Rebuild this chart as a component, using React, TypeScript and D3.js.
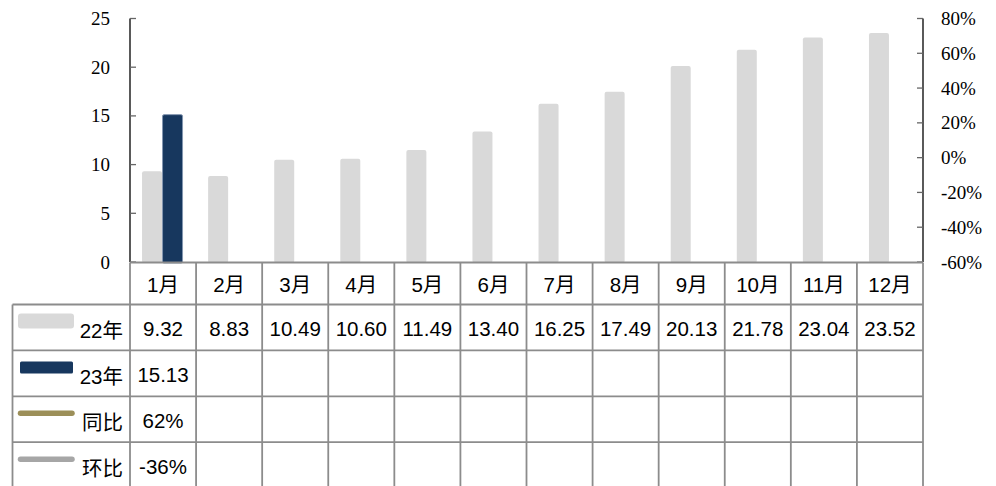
import React from "react";
import * as d3 from "d3";

const months = ["1月", "2月", "3月", "4月", "5月", "6月", "7月", "8月", "9月", "10月", "11月", "12月"];
const seriesNames = ["22年", "23年", "同比", "环比"];
const values22 = [9.32, 8.83, 10.49, 10.6, 11.49, 13.4, 16.25, 17.49, 20.13, 21.78, 23.04, 23.52];
const values23: (number | null)[] = [15.13, null, null, null, null, null, null, null, null, null, null, null];
const yoy: (number | null)[] = [0.62, null, null, null, null, null, null, null, null, null, null, null];
const mom: (number | null)[] = [-0.36, null, null, null, null, null, null, null, null, null, null, null];
const leftTicks = [0, 5, 10, 15, 20, 25];
const rightTicks = [-0.6, -0.4, -0.2, 0, 0.2, 0.4, 0.6, 0.8];

const W = 996;
const H = 486;
const axisL = 130;
const axisR = 923;
const plotTop = 18.5;
const plotBottom = 262;
const tableLeft = 12.5;
const headerBottom = 304.5;
const rowH = 45.9;

const C22 = "#D9D9D9";
const C23 = "#17375E";
const CYOY = "#9C8F59";
const CMOM = "#A6A6A6";
const GRID = "#8C8C8C";

const tableFont = "'Liberation Sans', Arial, 'Noto Sans CJK SC', sans-serif";
const axisFont = "'Liberation Serif', 'Times New Roman', serif";
const tableSize = 20.5;
const axisSize = 19;

export default function App() {
  const x = d3.scaleBand<string>().domain(months).range([axisL, axisR]);
  const yL = d3.scaleLinear().domain([0, 25]).range([plotBottom, plotTop]);
  const yR = d3.scaleLinear().domain([-0.6, 0.8]).range([plotBottom, plotTop]);
  const bw = 20;
  const cx = (m: string) => (x(m) as number) + x.bandwidth() / 2;

  const lineGen = d3
    .line<number | null>()
    .defined((d) => d !== null)
    .x((_, i) => cx(months[i]))
    .y((d) => yR(d as number));

  const rowTops = [0, 1, 2, 3].map((i) => headerBottom + i * rowH);
  const rowData: (number | null)[][] = [values22, values23, yoy, mom];
  const fmt = (r: number, v: number | null) =>
    v === null ? "" : r < 2 ? v.toFixed(2) : `${Math.round(v * 100)}%`;

  const colEdges = months.map((m) => x(m) as number).concat([axisR]);

  return (
    <svg width={W} height={H} style={{ position: "absolute", left: 0, top: 0, background: "#fff" }}>
      <rect x={0} y={0} width={W} height={H} fill="#fff" />
      {/* bars */}
      {months.map((m, i) => (
        <rect
          key={"b22" + m}
          x={cx(m) - bw - 1}
          y={yL(values22[i])}
          width={bw}
          height={plotBottom + 1 - yL(values22[i])}
          rx={2}
          fill={C22}
        />
      ))}
      {months.map((m, i) =>
        values23[i] === null ? null : (
          <rect
            key={"b23" + m}
            x={cx(m) - 0.5}
            y={yL(values23[i] as number)}
            width={bw}
            height={plotBottom + 1 - yL(values23[i] as number)}
            rx={1.5}
            fill={C23}
            stroke="#8496B0"
            strokeWidth={1}
          />
        )
      )}
      {/* lines (single point only) */}
      <path d={lineGen(yoy) || ""} fill="none" stroke={CYOY} strokeWidth={3} />
      <path d={lineGen(mom) || ""} fill="none" stroke={CMOM} strokeWidth={3} />

      {/* left axis */}
      <line x1={axisL} x2={axisL} y1={plotTop} y2={plotBottom} stroke="#000" strokeWidth={1.3} />
      {leftTicks.map((t) => (
        <g key={"lt" + t}>
          <line x1={axisL} x2={axisL + 6} y1={yL(t)} y2={yL(t)} stroke="#666" strokeWidth={1.3} />
          <text
            x={110}
            y={yL(t)}
            textAnchor="end"
            dominantBaseline="central"
            fontFamily={axisFont}
            fontSize={axisSize}
            fill="#000"
          >
            {t}
          </text>
        </g>
      ))}
      {/* right axis */}
      <line x1={axisR} x2={axisR} y1={plotTop} y2={plotBottom} stroke="#000" strokeWidth={1.3} />
      {rightTicks.map((t) => (
        <g key={"rt" + t}>
          <line x1={axisR - 6} x2={axisR} y1={yR(t)} y2={yR(t)} stroke="#666" strokeWidth={1.3} />
          <text
            x={941}
            y={yR(t)}
            textAnchor="start"
            dominantBaseline="central"
            fontFamily={axisFont}
            fontSize={axisSize}
            fill="#000"
          >
            {`${Math.round(t * 100)}%`}
          </text>
        </g>
      ))}

      {/* table grid */}
      <line x1={axisL} x2={axisR} y1={plotBottom + 0.5} y2={plotBottom + 0.5} stroke={GRID} strokeWidth={1.8} />
      {rowTops.map((yy) => (
        <line key={"h" + yy} x1={tableLeft} x2={axisR} y1={yy} y2={yy} stroke={GRID} strokeWidth={1.8} />
      ))}
      <line x1={tableLeft} x2={tableLeft} y1={headerBottom} y2={H + 2} stroke={GRID} strokeWidth={1.8} />
      {colEdges.map((xx, i) => (
        <line key={"v" + i} x1={xx} x2={xx} y1={plotBottom + 0.5} y2={H + 2} stroke={GRID} strokeWidth={1.8} />
      ))}

      {/* header */}
      {months.map((m) => (
        <text
          key={"hd" + m}
          x={cx(m)}
          y={(plotBottom + headerBottom) / 2 + 1}
          textAnchor="middle"
          dominantBaseline="central"
          fontFamily={tableFont}
          fontSize={tableSize}
          fill="#000"
        >
          {m}
        </text>
      ))}

      {/* legend cells */}
      {seriesNames.map((s, r) => {
        const top = rowTops[r];
        const mid = top + rowH / 2;
        let swatch: React.ReactNode;
        if (r === 0)
          swatch = <rect x={18} y={top + 9} width={56} height={15} rx={3} fill={C22} />;
        else if (r === 1)
          swatch = <rect x={20} y={top + 11} width={53} height={12} rx={1.5} fill={C23} />;
        else
          swatch = (
            <line
              x1={20.5}
              x2={72}
              y1={top + 17}
              y2={top + 17}
              stroke={r === 2 ? CYOY : CMOM}
              strokeWidth={5.5}
              strokeLinecap="round"
            />
          );
        return (
          <g key={"lg" + s}>
            {swatch}
            <text
              x={123}
              y={mid + 3}
              textAnchor="end"
              dominantBaseline="central"
              fontFamily={tableFont}
              fontSize={tableSize}
              fill="#000"
            >
              {s}
            </text>
          </g>
        );
      })}

      {/* values */}
      {rowData.map((arr, r) =>
        arr.map((v, i) =>
          v === null ? null : (
            <text
              key={`v${r}-${i}`}
              x={cx(months[i])}
              y={rowTops[r] + rowH / 2 + 1}
              textAnchor="middle"
              dominantBaseline="central"
              fontFamily={tableFont}
              fontSize={tableSize}
              fill="#000"
            >
              {fmt(r, v)}
            </text>
          )
        )
      )}
    </svg>
  );
}
